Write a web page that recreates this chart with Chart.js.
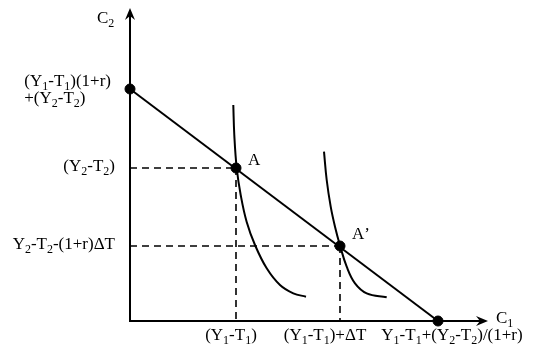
<!DOCTYPE html>
<html>
<head>
<meta charset="utf-8">
<script src="https://cdn.jsdelivr.net/npm/chart.js@4.4.1/dist/chart.umd.min.js"></script>
<style>
  html, body { margin: 0; padding: 0; background: #fff; }
</style>
</head>
<body>
<canvas id="chart" width="543" height="360"></canvas>
<script>
// values (arbitrary units, origin at the axes corner)
const budgetLine = [{x: 0, y: 23.2}, {x: 30.8, y: 0}];
const curve1 = [{x: 10.33, y: 21.6}, {x: 10.43, y: 18.6}, {x: 10.67, y: 15.3}, {x: 11.07, y: 12.6}, {x: 11.67, y: 9.9}, {x: 12.5, y: 7.6}, {x: 13.67, y: 5.27}, {x: 15.0, y: 3.6}, {x: 16.33, y: 2.77}, {x: 17.6, y: 2.43}];
const curve2 = [{x: 19.4, y: 16.93}, {x: 19.67, y: 14.1}, {x: 20.07, y: 11.43}, {x: 20.5, y: 9.43}, {x: 21.0, y: 7.55}, {x: 21.67, y: 5.43}, {x: 22.5, y: 3.77}, {x: 23.67, y: 2.77}, {x: 25.67, y: 2.37}];
const pointA = {x: 10.6, y: 15.3};
const pointA2 = {x: 21.0, y: 7.5};
const pointNames = ['A', 'A\u2019'];
const yTickValues = [23.2, 15.3, 7.5];
const yTickLabels = [['(Y_1-T_1)(1+r)', '+(Y_2-T_2)'], ['(Y_2-T_2)'], ['Y_2-T_2-(1+r)\u0394T']];
const xTickValues = [10.6, 21.0, 30.8];
const xTickLabels = ['(Y_1-T_1)', '(Y_1-T_1)+\u0394T', 'Y_1-T_1+(Y_2-T_2)/(1+r)'];
const xAxisName = 'C_1';
const yAxisName = 'C_2';

const FONT = '"Liberation Serif", "DejaVu Serif", serif';

// split "Y_1" style text into normal / subscript pieces
function pieces(str) {
    const out = [];
    for (let i = 0; i < str.length; i++) {
        if (str[i] === '_' && i + 1 < str.length) {
            out.push({t: str[i + 1], sub: true});
            i++;
        } else {
            out.push({t: str[i], sub: false});
        }
    }
    return out;
}

function textWidth(ctx, str) {
    let w = 0;
    pieces(str).forEach(p => {
        ctx.font = p.sub ? '12px ' + FONT : '17px ' + FONT;
        w += ctx.measureText(p.t).width;
    });
    return w;
}

function drawText(ctx, str, x, y) {
    ctx.textAlign = 'left';
    ctx.textBaseline = 'alphabetic';
    pieces(str).forEach(p => {
        ctx.font = p.sub ? '12px ' + FONT : '17px ' + FONT;
        ctx.fillText(p.t, x, p.sub ? y + 4 : y);
        x += ctx.measureText(p.t).width;
    });
}

function arrowHead(ctx, x, y, dir) {
    ctx.beginPath();
    if (dir === 'up') {
        ctx.moveTo(x, y);
        ctx.lineTo(x - 5, y + 12);
        ctx.lineTo(x, y + 8);
        ctx.lineTo(x + 5, y + 12);
    } else {
        ctx.moveTo(x, y);
        ctx.lineTo(x - 12, y - 5);
        ctx.lineTo(x - 8, y);
        ctx.lineTo(x - 12, y + 5);
    }
    ctx.closePath();
    ctx.fill();
}

// axes, arrows and all the labels
const diagramPlugin = {
    id: 'diagram',
    beforeDatasetsDraw(chart) {
        const ctx = chart.ctx;
        const area = chart.chartArea;
        ctx.save();
        ctx.strokeStyle = '#000';
        ctx.fillStyle = '#000';
        ctx.lineWidth = 2;
        ctx.beginPath();
        ctx.moveTo(area.left, area.top + 4);
        ctx.lineTo(area.left, area.bottom);
        ctx.lineTo(area.right - 4, area.bottom);
        ctx.stroke();
        arrowHead(ctx, area.left, area.top - 4, 'up');
        arrowHead(ctx, area.right + 1, area.bottom, 'right');
        ctx.restore();
    },
    afterDatasetsDraw(chart) {
        const ctx = chart.ctx;
        const area = chart.chartArea;
        const xs = chart.scales.x;
        const ys = chart.scales.y;
        ctx.save();
        ctx.fillStyle = '#000';

        drawText(ctx, yAxisName, area.left - 33, area.top + 11);
        drawText(ctx, xAxisName, area.right + 9, area.bottom + 2);

        yTickValues.forEach((v, i) => {
            const py = ys.getPixelForValue(v);
            const lines = yTickLabels[i];
            const widths = lines.map(l => textWidth(ctx, l));
            const start = area.left - 19 - Math.max(...widths);
            if (lines.length > 1) {
                lines.forEach((l, j) => drawText(ctx, l, start, py - 3 + j * 17));
            } else {
                drawText(ctx, lines[0], area.left - 15 - widths[0], py + 3);
            }
        });

        xTickValues.forEach((v, i) => {
            const px = xs.getPixelForValue(v);
            const w = textWidth(ctx, xTickLabels[i]);
            const shift = i === 0 ? -5 : (i === 1 ? -15 : 14);
            drawText(ctx, xTickLabels[i], px - w / 2 + shift, area.bottom + 19);
        });

        [pointA, pointA2].forEach((p, i) => {
            const px = xs.getPixelForValue(p.x);
            const py = ys.getPixelForValue(p.y);
            drawText(ctx, pointNames[i], px + 12, py - 3 - i * 4);
        });
        ctx.restore();
    }
};

const lineStyle = {
    showLine: true,
    borderColor: '#000',
    borderWidth: 2,
    pointRadius: 0,
    fill: false,
    clip: false
};

const dashStyle = Object.assign({}, lineStyle, {borderWidth: 1.6, borderDash: [7, 5]});

const chart = new Chart(document.getElementById('chart').getContext('2d'), {
    type: 'scatter',
    data: {
        datasets: [
            Object.assign({label: 'guide A h', data: [{x: 0, y: pointA.y}, pointA]}, dashStyle),
            Object.assign({label: 'guide A v', data: [pointA, {x: pointA.x, y: 0}]}, dashStyle),
            Object.assign({label: "guide A' h", data: [{x: 0, y: pointA2.y}, pointA2]}, dashStyle),
            Object.assign({label: "guide A' v", data: [pointA2, {x: pointA2.x, y: 0}]}, dashStyle),
            Object.assign({label: 'budget', data: budgetLine}, lineStyle),
            Object.assign({label: 'IC1', data: curve1, tension: 0.4}, lineStyle),
            Object.assign({label: 'IC2', data: curve2, tension: 0.4}, lineStyle),
            {
                label: 'points',
                data: [budgetLine[0], pointA, pointA2, budgetLine[1]],
                showLine: false,
                pointRadius: 5,
                pointBackgroundColor: '#000',
                pointBorderColor: '#000',
                clip: false
            }
        ]
    },
    options: {
        responsive: false,
        animation: false,
        devicePixelRatio: 1,
        layout: {
            padding: {left: 130, right: 56, top: 12, bottom: 39}
        },
        scales: {
            x: {type: 'linear', min: 0, max: 35.7, display: false},
            y: {type: 'linear', min: 0, max: 30.9, display: false}
        },
        plugins: {
            legend: {display: false},
            tooltip: {enabled: false}
        }
    },
    plugins: [diagramPlugin]
});
</script>
</body>
</html>
